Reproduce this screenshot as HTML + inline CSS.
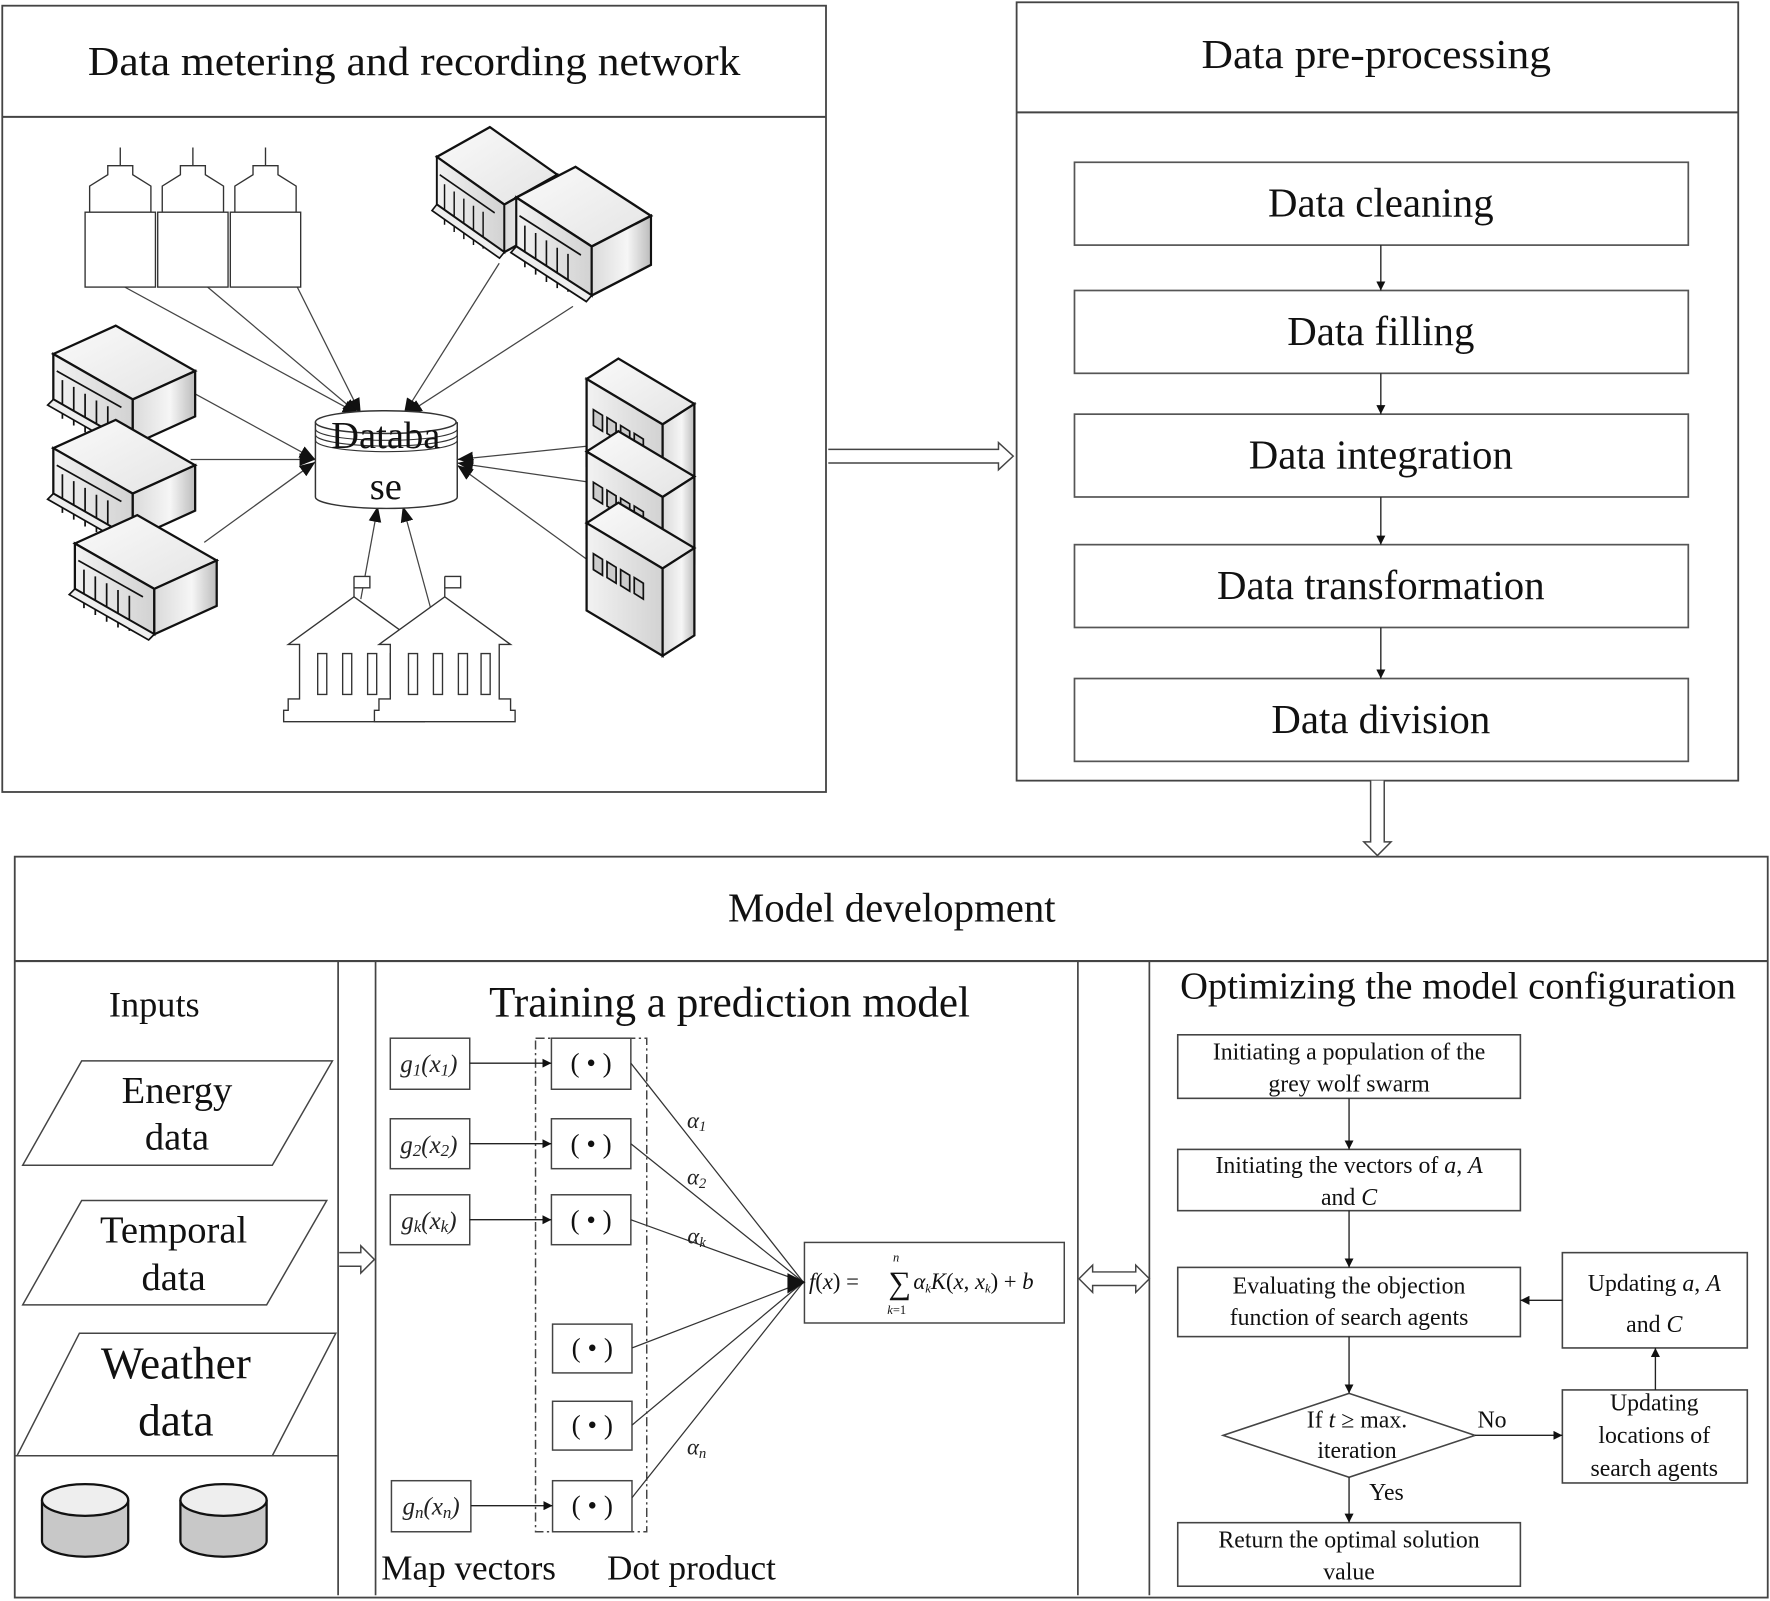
<!DOCTYPE html>
<html><head><meta charset="utf-8"><style>html,body{margin:0;padding:0;background:#fff}svg{display:block}</style></head><body>
<svg width="1770" height="1601" viewBox="0 0 1560 1411" xmlns="http://www.w3.org/2000/svg" font-family="'Liberation Serif',serif" fill="none" stroke="#333" stroke-width="1.3">
<defs>
<marker id="ar" viewBox="0 0 10 10" refX="10" refY="5" markerWidth="8" markerHeight="8" orient="auto-start-reverse" markerUnits="userSpaceOnUse"><path d="M0,0 L10,5 L0,10 Z" fill="#111" stroke="none"/></marker>
<marker id="ab" viewBox="0 0 10 10" refX="10" refY="5" markerWidth="14" markerHeight="14" orient="auto" markerUnits="userSpaceOnUse"><path d="M0,1 L10,5 L0,9 Z" fill="#111" stroke="none"/></marker>
<linearGradient id="gt" x1="0" y1="0" x2="1" y2="1"><stop offset="0" stop-color="#fafafa"/><stop offset="1" stop-color="#e4e4e4"/></linearGradient>
<linearGradient id="gl" x1="0" y1="0" x2="1" y2="0"><stop offset="0" stop-color="#f2f2f2"/><stop offset="1" stop-color="#d2d2d2"/></linearGradient>
<linearGradient id="gr" x1="0" y1="0" x2="1" y2="0"><stop offset="0" stop-color="#dadada"/><stop offset="0.6" stop-color="#f6f6f6"/><stop offset="1" stop-color="#bcbcbc"/></linearGradient>
<g id="b1" stroke="#111" stroke-width="2">
<path d="M0,25 L55,0 L125,40 L70,65 Z" fill="url(#gt)"/>
<path d="M0,25 L70,65 L70,105 L0,65 Z" fill="url(#gl)"/>
<path d="M70,65 L125,40 L125,80 L70,105 Z" fill="url(#gr)"/>
<path d="M8,48 V82 M18,54 V88 M28,60 V94 M38,66 V99 M48,71 V102 M3,40 L60,72" stroke-width="1.5"/>
<path d="M-5,70 L0,65 L70,105 L65,110 Z" fill="#eee" stroke-width="1.5"/>
</g>
<g id="b2" stroke="#111" stroke-width="2">
<path d="M0,18 L28,0 L95,40 L67,58 Z" fill="url(#gt)"/>
<path d="M0,18 L67,58 L67,135 L0,95 Z" fill="url(#gl)"/>
<path d="M67,58 L95,40 L95,117 L67,135 Z" fill="url(#gr)"/>
<path d="M6,45 l0,14 l8,5 l0,-14 Z M18,52 l0,14 l8,5 l0,-14 Z M30,59 l0,14 l8,5 l0,-14 Z M42,66 l0,14 l8,5 l0,-14 Z" fill="#ccc" stroke-width="1.5"/>
</g>
<g id="tw" stroke="#333" stroke-width="1.2" fill="#fff">
<path d="M31,0 V16 M20,16 H42 V24 L58,34 V57 H4 V34 L20,24 Z"/>
<rect x="0" y="57" width="62" height="66"/>
</g>
<g id="cap" stroke="#333" stroke-width="1.2" fill="#fff">
<path d="M58,0 V18 M58,0 h14 v10 h-14"/>
<path d="M0,60 L58,18 L116,60 H106 V108 H116 V118 H120 V128 H-4 V118 H0 V108 H10 V60 Z"/>
<path d="M26,68 h8 v36 h-8 Z M48,68 h8 v36 h-8 Z M70,68 h8 v36 h-8 Z M90,68 h8 v36 h-8 Z" />
</g>
</defs>

<!-- Box 1 -->
<rect x="2" y="5" width="726" height="693" stroke="#444" stroke-width="1.6"/>
<line x1="2" y1="103" x2="728" y2="103" stroke="#444" stroke-width="1.8"/>
<text x="365" y="66" font-size="36" text-anchor="middle" fill="#111" stroke="none" textLength="575" lengthAdjust="spacingAndGlyphs">Data metering and recording network</text>

<!-- connectors -->
<g stroke="#444" stroke-width="1.1" marker-end="url(#ab)">
<line x1="110" y1="253" x2="316" y2="365"/>
<line x1="183" y1="253" x2="316" y2="365"/>
<line x1="262" y1="253" x2="318" y2="365"/>
<line x1="440" y1="232" x2="356" y2="365"/>
<line x1="505" y1="270" x2="358" y2="365"/>
<line x1="168" y1="345" x2="278" y2="405"/>
<line x1="168" y1="405" x2="278" y2="405"/>
<line x1="180" y1="478" x2="278" y2="407"/>
<line x1="520" y1="393" x2="403" y2="405"/>
<line x1="520" y1="425" x2="403" y2="408"/>
<line x1="520" y1="495" x2="403" y2="410"/>
<line x1="318" y1="528" x2="333" y2="446"/>
<line x1="382" y1="545" x2="355" y2="446"/>
</g>

<use href="#tw" x="75" y="130"/><use href="#tw" x="139" y="130"/><use href="#tw" x="203" y="130"/>
<use href="#b1" transform="translate(385,112) scale(0.85,1.05)"/>
<use href="#b1" transform="translate(455,147) scale(0.95,1.08)"/>
<use href="#b1" transform="translate(47,287)"/>
<use href="#b1" transform="translate(47,370)"/>
<use href="#b1" transform="translate(66,454)"/>
<use href="#b2" transform="translate(517,316)"/>
<use href="#b2" transform="translate(517,380)"/>
<use href="#b2" transform="translate(517,443)"/>
<use href="#cap" x="254" y="508"/>
<use href="#cap" x="334" y="508"/>

<!-- database -->
<path d="M278,372 V438 A62,10 0 0 0 403,438 V372" fill="#fff" stroke="#333"/>
<ellipse cx="340" cy="372" rx="62" ry="10" fill="#fff" stroke="#333"/>
<path d="M278,378 A62,10 0 0 0 403,378 M278,383 A62,10 0 0 0 403,383 M278,388 A62,10 0 0 0 403,388" stroke="#333" stroke-width="1"/>
<text x="340" y="395" font-size="34" text-anchor="middle" fill="#111" stroke="none">Databa</text>
<text x="340" y="440" font-size="34" text-anchor="middle" fill="#111" stroke="none">se</text>

<!-- hollow arrow right -->
<path d="M730,396 H880 V390 L893,402 L880,414 V408 H730" stroke="#444" fill="#fff"/>

<!-- Box 2 -->
<rect x="896" y="2" width="636" height="686" stroke="#444" stroke-width="1.6"/>
<line x1="896" y1="99" x2="1532" y2="99" stroke="#444" stroke-width="1.8"/>
<text x="1213" y="60" font-size="36" text-anchor="middle" fill="#111" stroke="none" textLength="308" lengthAdjust="spacingAndGlyphs">Data pre-processing</text>
<g stroke="#555" stroke-width="1.5" fill="#fff">
<rect x="947" y="143" width="541" height="73"/>
<rect x="947" y="256" width="541" height="73"/>
<rect x="947" y="365" width="541" height="73"/>
<rect x="947" y="480" width="541" height="73"/>
<rect x="947" y="598" width="541" height="73"/>
</g>
<g stroke="#222" stroke-width="1.2" marker-end="url(#ar)">
<line x1="1217" y1="216" x2="1217" y2="256"/>
<line x1="1217" y1="329" x2="1217" y2="365"/>
<line x1="1217" y1="438" x2="1217" y2="480"/>
<line x1="1217" y1="553" x2="1217" y2="598"/>
</g>
<g font-size="36" text-anchor="middle" fill="#111" stroke="none">
<text x="1217" y="191">Data cleaning</text>
<text x="1217" y="304">Data filling</text>
<text x="1217" y="413">Data integration</text>
<text x="1217" y="528">Data transformation</text>
<text x="1217" y="646">Data division</text>
</g>

<!-- hollow down arrow -->
<path d="M1208,688 V742 H1202 L1214,754 L1226,742 H1220 V688" stroke="#444" fill="#fff"/>

<!-- Model box -->
<rect x="13" y="755" width="1545" height="653" stroke="#444" stroke-width="1.6"/>
<line x1="13" y1="847" x2="1558" y2="847" stroke="#444" stroke-width="1.8"/>
<text x="786" y="812" font-size="36" text-anchor="middle" fill="#111" stroke="none">Model development</text>
<line x1="298" y1="847" x2="298" y2="1406" stroke="#444" stroke-width="1.5"/>
<line x1="331" y1="847" x2="331" y2="1406" stroke="#444" stroke-width="1.5"/>
<line x1="950" y1="847" x2="950" y2="1406" stroke="#444" stroke-width="1.5"/>
<line x1="1013" y1="847" x2="1013" y2="1406" stroke="#444" stroke-width="1.5"/>

<!-- inputs -->
<text x="136" y="896" font-size="32" text-anchor="middle" fill="#111" stroke="none">Inputs</text>
<g stroke="#444" stroke-width="1.3">
<path d="M72,935 H293 L240,1027 H20 Z"/>
<path d="M72,1058 H288 L235,1150 H20 Z"/>
<path d="M70,1175 H296 L240,1283 H15 Z"/>
<line x1="13" y1="1283" x2="298" y2="1283"/>
</g>
<g font-size="34" text-anchor="middle" fill="#111" stroke="none">
<text x="156" y="972">Energy</text><text x="156" y="1013">data</text>
<text x="153" y="1095">Temporal</text><text x="153" y="1137">data</text>
<text x="155" y="1215" font-size="40">Weather</text><text x="155" y="1265" font-size="40">data</text>
</g>
<g stroke="#111" stroke-width="2">
<path d="M37,1322 V1358 A38,14 0 0 0 113,1358 V1322" fill="#c8c8c8"/>
<ellipse cx="75" cy="1322" rx="38" ry="14" fill="#eee"/>
<path d="M159,1322 V1358 A38,14 0 0 0 235,1358 V1322" fill="#c8c8c8"/>
<ellipse cx="197" cy="1322" rx="38" ry="14" fill="#eee"/>
</g>
<path d="M299,1104 H318 V1098 L330,1110 L318,1122 V1116 H299" stroke="#444" fill="#fff"/>

<!-- training -->
<text x="643" y="896" font-size="38" text-anchor="middle" fill="#111" stroke="none">Training a prediction model</text>
<rect x="472" y="915" width="98" height="435" stroke="#444" stroke-dasharray="8,3,2,3"/>
<g stroke="#444" stroke-width="1.3" fill="#fff">
<rect x="344" y="915" width="70" height="45"/><rect x="344" y="986" width="70" height="44"/><rect x="344" y="1053" width="70" height="44"/><rect x="345" y="1305" width="70" height="45"/>
<rect x="486" y="915" width="70" height="45"/><rect x="486" y="986" width="70" height="44"/><rect x="486" y="1053" width="70" height="44"/>
<rect x="487" y="1167" width="70" height="43"/><rect x="487" y="1235" width="70" height="43"/><rect x="487" y="1305" width="70" height="45"/>
<rect x="709" y="1095" width="229" height="71"/>
</g>
<g stroke="#222" stroke-width="1.2" marker-end="url(#ar)">
<line x1="414" y1="937" x2="486" y2="937"/><line x1="414" y1="1008" x2="486" y2="1008"/><line x1="414" y1="1075" x2="486" y2="1075"/><line x1="415" y1="1327" x2="487" y2="1327"/>
</g>
<g stroke="#333" stroke-width="1.1">
<line x1="556" y1="937" x2="708" y2="1130"/><line x1="556" y1="1008" x2="708" y2="1130"/><line x1="556" y1="1075" x2="708" y2="1130"/>
<line x1="557" y1="1188" x2="708" y2="1130"/><line x1="557" y1="1256" x2="708" y2="1130"/><line x1="557" y1="1320" x2="708" y2="1130"/>
</g>
<path d="M694,1122 L710,1130 L694,1140 Z" fill="#111" stroke="none"/>
<g font-size="22" font-style="italic" text-anchor="middle" fill="#222" stroke="none">
<text x="378" y="945">g<tspan font-size="15" dy="3">1</tspan><tspan dy="-3">(x</tspan><tspan font-size="15" dy="3">1</tspan><tspan dy="-3">)</tspan></text>
<text x="378" y="1016">g<tspan font-size="15" dy="3">2</tspan><tspan dy="-3">(x</tspan><tspan font-size="15" dy="3">2</tspan><tspan dy="-3">)</tspan></text>
<text x="378" y="1083">g<tspan font-size="15" dy="3">k</tspan><tspan dy="-3">(x</tspan><tspan font-size="15" dy="3">k</tspan><tspan dy="-3">)</tspan></text>
<text x="380" y="1335">g<tspan font-size="15" dy="3">n</tspan><tspan dy="-3">(x</tspan><tspan font-size="15" dy="3">n</tspan><tspan dy="-3">)</tspan></text>
<text x="614" y="994" font-size="20">α<tspan font-size="13" dy="3">1</tspan></text>
<text x="614" y="1044" font-size="20">α<tspan font-size="13" dy="3">2</tspan></text>
<text x="614" y="1096" font-size="20">α<tspan font-size="13" dy="3">k</tspan></text>
<text x="614" y="1282" font-size="20">α<tspan font-size="13" dy="3">n</tspan></text>
</g>
<g font-size="24" text-anchor="middle" fill="#111" stroke="none">
<text x="521" y="945">( • )</text><text x="521" y="1016">( • )</text><text x="521" y="1083">( • )</text>
<text x="522" y="1196">( • )</text><text x="522" y="1264">( • )</text><text x="522" y="1335">( • )</text>
</g>
<g fill="#111" stroke="none" font-style="italic" font-size="20">
<text x="713" y="1136">f<tspan font-style="normal">(</tspan>x<tspan font-style="normal">) =</tspan></text>
<text x="783" y="1140" font-style="normal" font-size="28">∑</text>
<text x="787" y="1112" font-size="11">n</text>
<text x="782" y="1158" font-size="11">k<tspan font-style="normal">=1</tspan></text>
<text x="805" y="1136">α<tspan font-size="11" dy="3">k</tspan><tspan dy="-3">K</tspan><tspan font-style="normal">(</tspan>x<tspan font-style="normal">, </tspan>x<tspan font-size="11" dy="3">k</tspan><tspan dy="-3" font-style="normal">) + </tspan>b</text>
</g>
<text x="336" y="1392" font-size="31" fill="#111" stroke="none">Map vectors</text>
<text x="535" y="1392" font-size="31" fill="#111" stroke="none">Dot product</text>

<!-- double arrow -->
<path d="M951,1127 L963,1115 V1121 H1001 V1115 L1013,1127 L1001,1139 V1133 H963 V1139 Z" stroke="#444" fill="#fff"/>

<!-- optimizing -->
<text x="1285" y="880" font-size="34" text-anchor="middle" fill="#111" stroke="none">Optimizing the model configuration</text>
<g stroke="#444" stroke-width="1.4" fill="#fff">
<rect x="1038" y="912" width="302" height="56"/>
<rect x="1038" y="1013" width="302" height="54"/>
<rect x="1038" y="1117" width="302" height="61"/>
<rect x="1377" y="1104" width="163" height="84"/>
<rect x="1377" y="1225" width="163" height="82"/>
<path d="M1189,1228 L1300,1265 L1189,1302 L1078,1265 Z"/>
<rect x="1038" y="1342" width="302" height="56"/>
</g>
<g stroke="#222" stroke-width="1.2" marker-end="url(#ar)">
<line x1="1189" y1="968" x2="1189" y2="1013"/>
<line x1="1189" y1="1067" x2="1189" y2="1117"/>
<line x1="1189" y1="1178" x2="1189" y2="1228"/>
<line x1="1189" y1="1302" x2="1189" y2="1342"/>
<line x1="1300" y1="1265" x2="1377" y2="1265"/>
<line x1="1459" y1="1225" x2="1459" y2="1188"/>
<line x1="1377" y1="1146" x2="1340" y2="1146"/>
</g>
<g font-size="21" text-anchor="middle" fill="#111" stroke="none">
<text x="1189" y="934">Initiating a population of the</text><text x="1189" y="962">grey wolf swarm</text>
<text x="1189" y="1034">Initiating the vectors of <tspan font-style="italic">a</tspan>, <tspan font-style="italic">A</tspan></text><text x="1189" y="1062">and <tspan font-style="italic">C</tspan></text>
<text x="1189" y="1140">Evaluating the objection</text><text x="1189" y="1168">function of search agents</text>
<text x="1458" y="1138">Updating <tspan font-style="italic">a</tspan>, <tspan font-style="italic">A</tspan></text><text x="1458" y="1174">and <tspan font-style="italic">C</tspan></text>
<text x="1458" y="1243">Updating</text><text x="1458" y="1272">locations of</text><text x="1458" y="1301">search agents</text>
<text x="1196" y="1258">If <tspan font-style="italic">t</tspan> ≥ max.</text><text x="1196" y="1285">iteration</text>
<text x="1315" y="1258">No</text><text x="1222" y="1322">Yes</text>
<text x="1189" y="1364">Return the optimal solution</text><text x="1189" y="1392">value</text>
</g>
</svg>
</body></html>
